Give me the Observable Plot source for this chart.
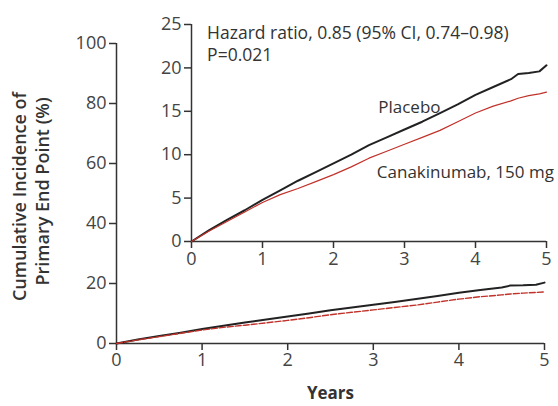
<!DOCTYPE html>
<html><head><meta charset="utf-8">
<script src="https://cdn.jsdelivr.net/npm/d3@7"></script>
<script src="https://cdn.jsdelivr.net/npm/@observablehq/plot@0.6"></script>
<style>
body{margin:0;background:#fff;}
#wrap{position:relative;width:558px;height:406px;overflow:hidden;}
#main{position:absolute;left:0;top:0;}
#inset{position:absolute;left:161px;top:4px;}
</style></head><body><div id="wrap"><div id="main"></div><div id="inset"></div></div>
<script>
const years       = [0, 0.25, 0.5, 0.75, 1, 1.25, 1.5, 1.75, 2, 2.25, 2.5, 2.75, 3, 3.25, 3.5, 3.75, 4, 4.25, 4.5, 4.6, 4.75, 4.9, 5];
const placebo     = [0, 1.3, 2.5, 3.6, 4.8, 5.9, 7.0, 8.0, 9.0, 10.0, 11.1, 12.0, 12.9, 13.8, 14.8, 15.8, 16.9, 17.8, 18.7, 19.3, 19.4, 19.6, 20.3];
const canakinumab = [0, 1.2, 2.3, 3.4, 4.5, 5.4, 6.1, 6.9, 7.7, 8.6, 9.6, 10.4, 11.2, 12.0, 12.8, 13.8, 14.8, 15.6, 16.2, 16.5, 16.8, 17.0, 17.2];
const xTicks      = [0, 1, 2, 3, 4, 5];
const mainYTicks  = [0, 20, 40, 60, 80, 100];
const insetYTicks = [0, 5, 10, 15, 20, 25];
const yLabelLines = ["Cumulative Incidence of", "Primary End Point (%)"];

const placeboRows = years.map((t, i) => ({t, v: placebo[i]}));
const canaRows    = years.map((t, i) => ({t, v: canakinumab[i]}));

const FONT = "'Open Sans', sans-serif";
const AXIS = "#333";
const RED = "#c0322a";
const fmt = d3.format("d");

const main = Plot.plot({
  width: 558, height: 406,
  marginLeft: 116, marginRight: 14, marginTop: 43, marginBottom: 63,
  style: {fontFamily: FONT, fontSize: "18px", color: "#444", background: "transparent"},
  x: {domain: [0, 5]},
  y: {domain: [0, 100]},
  marks: [
    Plot.axisX({ticks: xTicks, tickFormat: fmt, tickSize: 7, tickPadding: 3, label: null, stroke: AXIS, strokeWidth: 1.5}),
    Plot.axisY({ticks: mainYTicks, tickFormat: fmt, tickSize: 7, tickPadding: 3, label: null, stroke: AXIS, strokeWidth: 1.5}),
    Plot.ruleX([0], {stroke: AXIS, strokeWidth: 1.5}),
    Plot.ruleY([0], {stroke: AXIS, strokeWidth: 1.5}),
    Plot.line(placeboRows, {x: "t", y: "v", stroke: "#222", strokeWidth: 2}),
    Plot.line(canaRows, {x: "t", y: "v", stroke: RED, strokeWidth: 1.4, strokeDasharray: "6,2"}),
    Plot.text(["Years"], {frameAnchor: "bottom", dy: 55, text: d => d, fontWeight: "bold", fontSize: 17, fill: "#333"}),
    Plot.text([yLabelLines[0]], {frameAnchor: "left", dx: -96, dy: 3, text: d => d, textAnchor: "middle", rotate: -90, fontWeight: 600, fontSize: 18, fill: "#333"}),
    Plot.text([yLabelLines[1]], {frameAnchor: "left", dx: -73, dy: -2, text: d => d, textAnchor: "middle", rotate: -90, fontWeight: 600, fontSize: 18, fill: "#333"})
  ]
});
document.getElementById("main").appendChild(main);

const inset = Plot.plot({
  width: 397, height: 272,
  marginLeft: 30, marginRight: 12, marginTop: 20, marginBottom: 35,
  style: {fontFamily: FONT, fontSize: "18px", color: "#444", background: "transparent"},
  x: {domain: [0, 5]},
  y: {domain: [0, 25]},
  marks: [
    Plot.axisX({ticks: xTicks, tickFormat: fmt, tickSize: 7, tickPadding: 4, label: null, stroke: AXIS, strokeWidth: 1.5}),
    Plot.axisY({ticks: insetYTicks, tickFormat: fmt, tickSize: 7, tickPadding: 3, label: null, stroke: AXIS, strokeWidth: 1.5}),
    Plot.ruleX([0], {stroke: AXIS, strokeWidth: 1.5}),
    Plot.ruleY([0], {stroke: AXIS, strokeWidth: 1.5}),
    Plot.line(placeboRows, {x: "t", y: "v", stroke: "#222", strokeWidth: 2}),
    Plot.line(canaRows, {x: "t", y: "v", stroke: RED, strokeWidth: 1.2}),
    Plot.text(["Hazard ratio, 0.85 (95% CI, 0.74\u20130.98)"], {x: 0.22, y: 24.0, text: d => d, textAnchor: "start", fontSize: 17.5, fill: "#333"}),
    Plot.text(["P=0.021"], {x: 0.22, y: 21.4, text: d => d, textAnchor: "start", fontSize: 17.5, fill: "#333"}),
    Plot.text(["Placebo"], {x: 2.63, y: 15.4, text: d => d, textAnchor: "start", fontSize: 17, fill: "#333"}),
    Plot.text(["Canakinumab, 150 mg"], {x: 2.61, y: 7.9, text: d => d, textAnchor: "start", fontSize: 17, fill: "#333"})
  ]
});
document.getElementById("inset").appendChild(inset);
</script>
</body></html>
